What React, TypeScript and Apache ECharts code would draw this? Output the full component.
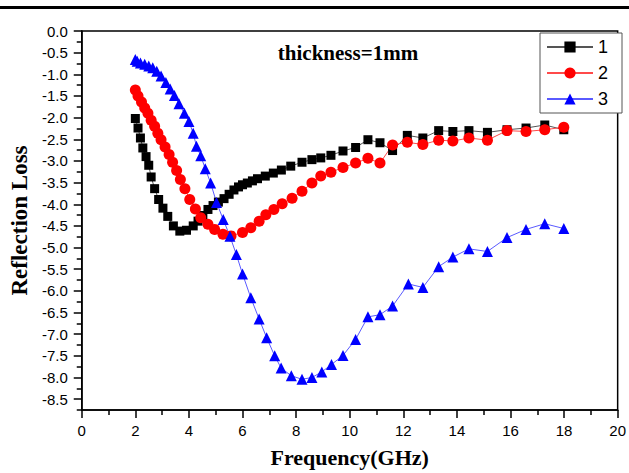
import React, { useEffect, useRef } from "react";
import * as echarts from "echarts";

const freq1 = [2.0, 2.1, 2.19, 2.28, 2.4, 2.5, 2.59, 2.72, 2.87, 3.03, 3.21, 3.42, 3.66, 3.91, 4.16, 4.34, 4.52, 4.71, 4.9, 5.1, 5.31, 5.5, 5.68, 5.85, 6.0, 6.18, 6.37, 6.56, 6.85, 7.15, 7.45, 7.8, 8.22, 8.59, 8.92, 9.3, 9.75, 10.22, 10.68, 11.13, 11.6, 12.15, 12.73, 13.32, 13.85, 14.45, 15.14, 15.87, 16.58, 17.28, 17.99];
const loss1 = [-2.02, -2.24, -2.47, -2.7, -2.9, -3.1, -3.37, -3.64, -3.89, -4.09, -4.28, -4.5, -4.62, -4.6, -4.5, -4.39, -4.26, -4.12, -4.03, -3.95, -3.87, -3.77, -3.67, -3.6, -3.55, -3.51, -3.46, -3.41, -3.35, -3.28, -3.21, -3.12, -3.03, -2.97, -2.93, -2.87, -2.77, -2.69, -2.51, -2.58, -2.76, -2.41, -2.47, -2.3, -2.32, -2.3, -2.34, -2.28, -2.24, -2.17, -2.28];

const freq2 = [2.0, 2.1, 2.23, 2.35, 2.47, 2.59, 2.72, 2.84, 2.96, 3.11, 3.26, 3.39, 3.54, 3.68, 3.85, 4.03, 4.24, 4.44, 4.71, 4.96, 5.27, 5.57, 6.0, 6.31, 6.62, 6.87, 7.17, 7.48, 7.85, 8.22, 8.59, 8.92, 9.3, 9.75, 10.22, 10.68, 11.13, 11.6, 12.15, 12.73, 13.32, 13.85, 14.45, 15.14, 15.87, 16.58, 17.28, 17.99];
const loss2 = [-1.36, -1.5, -1.64, -1.78, -1.9, -2.06, -2.2, -2.36, -2.51, -2.68, -2.85, -3.03, -3.22, -3.43, -3.64, -3.89, -4.11, -4.31, -4.46, -4.58, -4.69, -4.73, -4.65, -4.54, -4.39, -4.24, -4.12, -3.99, -3.86, -3.7, -3.51, -3.35, -3.26, -3.15, -3.05, -2.94, -3.05, -2.63, -2.57, -2.62, -2.52, -2.54, -2.47, -2.52, -2.3, -2.32, -2.28, -2.22];

const freq3 = [2.0, 2.07, 2.19, 2.35, 2.5, 2.65, 2.8, 2.96, 3.14, 3.3, 3.46, 3.63, 3.83, 4.0, 4.16, 4.28, 4.44, 4.61, 4.81, 5.03, 5.28, 5.53, 5.77, 6.0, 6.31, 6.62, 6.9, 7.2, 7.44, 7.82, 8.22, 8.59, 8.96, 9.32, 9.75, 10.22, 10.68, 11.13, 11.6, 12.19, 12.73, 13.32, 13.85, 14.45, 15.14, 15.87, 16.58, 17.28, 17.99];
const loss3 = [-0.66, -0.7, -0.74, -0.77, -0.81, -0.85, -0.93, -1.04, -1.19, -1.34, -1.49, -1.68, -1.9, -2.09, -2.36, -2.66, -2.88, -3.18, -3.51, -3.96, -4.35, -4.74, -5.16, -5.61, -6.16, -6.65, -7.08, -7.5, -7.78, -7.96, -8.04, -8.0, -7.87, -7.7, -7.49, -7.12, -6.6, -6.55, -6.35, -5.84, -5.92, -5.44, -5.22, -5.03, -5.09, -4.77, -4.58, -4.45, -4.56];

const seriesNames = ["1", "2", "3"];
const yMajorTicks = [0, -0.5, -1, -1.5, -2, -2.5, -3, -3.5, -4, -4.5, -5, -5.5, -6, -6.5, -7, -7.5, -8, -8.5];
const yMinorTicks = [-0.25, -0.75, -1.25, -1.75, -2.25, -2.75, -3.25, -3.75, -4.25, -4.75, -5.25, -5.75, -6.25, -6.75, -7.25, -7.75, -8.25, -8.75];
const annotation = "thickness=1mm";
const xTitle = "Frequency(GHz)";
const yTitle = "Reflection Loss";

const zip = (xs: number[], ys: number[]) => xs.map((x, i) => [x, ys[i]]);

export default function App() {
  const ref = useRef<HTMLDivElement>(null);
  useEffect(() => {
    if (!ref.current) return;
    const chart = echarts.init(ref.current, null, { renderer: "svg" });
    const sans = "Liberation Sans";
    const serif = "Liberation Serif";
    chart.setOption({
      animation: false,
      backgroundColor: "#fff",
      grid: {
        left: 79,
        top: 31,
        right: 8,
        bottom: 55,
        show: true,
        borderColor: "#000",
        borderWidth: 1.5,
        backgroundColor: "transparent",
      },
      legend: {
        left: 540,
        top: 33,
        orient: "vertical",
        data: seriesNames,
        backgroundColor: "#fff",
        borderColor: "#555",
        borderWidth: 1,
        borderRadius: 0,
        padding: [5, 14, 5, 6],
        itemGap: 8,
        itemWidth: 46,
        itemHeight: 14,
        textStyle: { fontFamily: sans, fontSize: 18, color: "#000", padding: [0, 0, 0, 0] },
      },
      xAxis: {
        type: "value",
        min: 0,
        max: 20,
        interval: 2,
        name: xTitle,
        nameLocation: "middle",
        nameGap: 36,
        nameTextStyle: { fontFamily: serif, fontWeight: "bold", fontSize: 22, color: "#000" },
        axisLine: { show: true, onZero: false, lineStyle: { color: "#000", width: 1.5 } },
        axisTick: { show: true, inside: false, length: 8, lineStyle: { color: "#000", width: 1.5 } },
        minorTick: { show: true, splitNumber: 2, length: 5, lineStyle: { color: "#000", width: 1.5 } },
        axisLabel: { fontFamily: sans, fontSize: 15, color: "#000", margin: 13 },
        splitLine: { show: false },
      },
      yAxis: [
        {
          type: "value",
          min: -8.75,
          max: 0,
          name: yTitle,
          nameLocation: "middle",
          nameGap: 50,
          nameTextStyle: { fontFamily: serif, fontWeight: "bold", fontSize: 23, color: "#000" },
          axisLine: { show: true, onZero: false, lineStyle: { color: "#000", width: 1.5 } },
          axisTick: { show: true, inside: false, length: 8, customValues: yMajorTicks, lineStyle: { color: "#000", width: 1.5 } },
          axisLabel: {
            fontFamily: sans,
            fontSize: 15,
            color: "#000",
            margin: 14,
            customValues: yMajorTicks,
            formatter: (v: number) => v.toFixed(1),
          },
          splitLine: { show: false },
        },
        {
          type: "value",
          min: -8.75,
          max: 0,
          position: "left",
          axisLine: { show: false },
          axisTick: { show: true, inside: false, length: 5, customValues: yMinorTicks, lineStyle: { color: "#000", width: 1.5 } },
          axisLabel: { show: false },
          splitLine: { show: false },
        },
      ],
      graphic: [
        { type: "rect", shape: { x: 0, y: 6, width: 629, height: 3 }, style: { fill: "#000" } },
        {
          type: "text",
          x: 348,
          y: 53,
          style: {
            text: annotation,
            font: `bold 21px "${serif}"`,
            fill: "#000",
            textAlign: "center",
            textVerticalAlign: "middle",
          },
        },
      ],
      series: [
        {
          name: seriesNames[0],
          type: "line",
          data: zip(freq1, loss1),
          symbol: "rect",
          symbolSize: 9,
          itemStyle: { color: "#000" },
          lineStyle: { color: "#555", width: 1 },
        },
        {
          name: seriesNames[1],
          type: "line",
          data: zip(freq2, loss2),
          symbol: "circle",
          symbolSize: 11,
          itemStyle: { color: "#ff0000" },
          lineStyle: { color: "#ff4a4a", width: 1 },
        },
        {
          name: seriesNames[2],
          type: "line",
          data: zip(freq3, loss3),
          symbol: "triangle",
          symbolSize: 11,
          itemStyle: { color: "#0000ff" },
          lineStyle: { color: "#5a5aff", width: 1 },
        },
      ],
    });
    return () => chart.dispose();
  }, []);
  return <div ref={ref} style={{ position: "fixed", left: 0, top: 0, width: 629, height: 473 }} />;
}
